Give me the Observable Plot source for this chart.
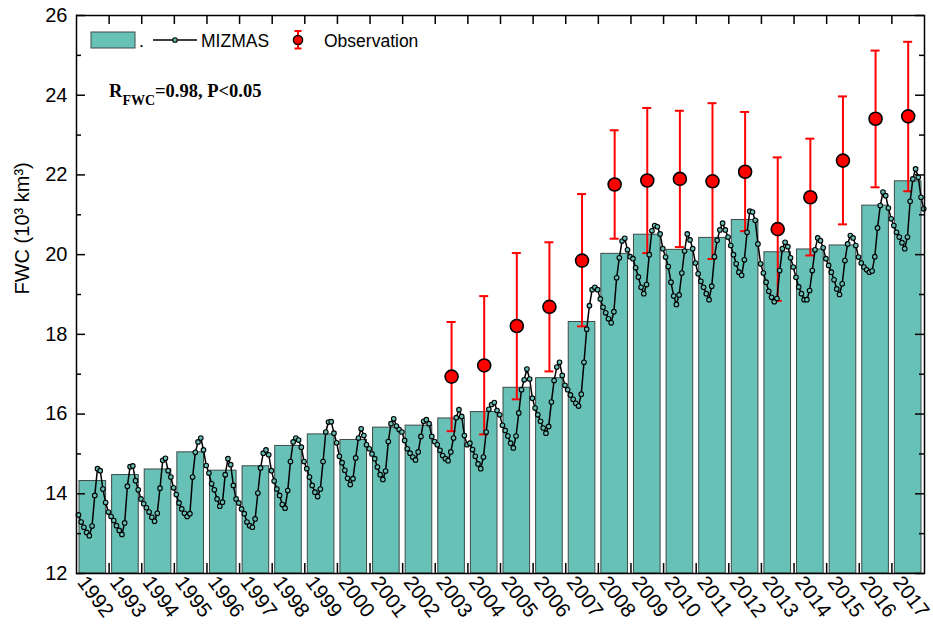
<!DOCTYPE html>
<html>
<head>
<meta charset="utf-8">
<script src="https://cdn.jsdelivr.net/npm/d3@7"></script>
<script src="https://cdn.jsdelivr.net/npm/@observablehq/plot@0.6"></script>
<style>
  body { margin: 0; background: #fff; }
  #chart { position: relative; width: 933px; height: 627px; }
</style>
</head>
<body>
<div id="chart"></div>
<script>
// Yearly model freshwater content (10^3 km^3), one bar per year
const years = d3.range(1992, 2018);
const annualFWC = [14.32, 14.47, 14.61, 15.04, 14.58, 14.69, 15.20, 15.49, 15.35, 15.66,
                   15.71, 15.89, 16.05, 16.66, 16.90, 18.31, 20.02, 20.50, 20.12, 20.42,
                   20.87, 20.06, 20.13, 20.23, 21.23, 21.84];

// MIZMAS monthly series, one row of 12 months per year
const monthlyFWC = [
  [13.47, 13.29, 13.16, 13.03, 12.95, 13.19, 13.96, 14.63, 14.58, 14.12, 13.78, 13.54], // 1992
  [13.43, 13.33, 13.20, 13.08, 12.98, 13.27, 14.19, 14.68, 14.70, 14.33, 14.10, 13.87], // 1993
  [13.75, 13.65, 13.54, 13.41, 13.31, 13.51, 14.14, 14.84, 14.89, 14.58, 14.42, 14.15], // 1994
  [13.98, 13.77, 13.62, 13.51, 13.43, 13.50, 14.42, 15.04, 15.30, 15.40, 15.10, 14.71], // 1995
  [14.52, 14.25, 14.10, 13.87, 13.69, 13.79, 14.48, 14.88, 14.73, 14.21, 13.87, 13.77], // 1996
  [13.62, 13.50, 13.29, 13.20, 13.16, 13.37, 14.02, 14.65, 15.02, 15.10, 14.98, 14.58], // 1997
  [14.32, 14.12, 13.96, 13.73, 13.64, 14.08, 14.81, 15.30, 15.40, 15.35, 15.17, 14.81], // 1998
  [14.63, 14.42, 14.21, 14.04, 13.93, 14.12, 14.81, 15.55, 15.80, 15.81, 15.52, 15.28], // 1999
  [14.94, 14.78, 14.59, 14.39, 14.23, 14.38, 14.90, 15.40, 15.63, 15.46, 15.23, 15.13], // 2000
  [15.00, 14.88, 14.67, 14.48, 14.36, 14.57, 15.31, 15.76, 15.88, 15.70, 15.61, 15.55], // 2001
  [15.34, 15.13, 15.02, 14.92, 14.85, 15.05, 15.44, 15.82, 15.86, 15.76, 15.44, 15.31], // 2002
  [15.23, 15.09, 14.96, 14.88, 14.83, 15.05, 15.40, 15.91, 16.11, 15.94, 15.46, 15.23], // 2003
  [15.27, 15.11, 14.94, 14.75, 14.63, 14.92, 15.55, 16.12, 16.24, 16.29, 16.09, 15.98], // 2004
  [15.72, 15.59, 15.45, 15.27, 15.15, 15.45, 16.03, 16.61, 16.86, 17.13, 16.88, 16.40], // 2005
  [16.15, 15.98, 15.82, 15.65, 15.52, 15.69, 16.30, 16.84, 17.18, 17.30, 16.97, 16.72], // 2006
  [16.61, 16.48, 16.37, 16.27, 16.20, 16.50, 17.30, 18.13, 18.72, 19.12, 19.18, 19.12], // 2007
  [18.89, 18.68, 18.54, 18.39, 18.29, 18.57, 19.42, 19.92, 20.34, 20.41, 20.12, 19.95], // 2008
  [19.90, 19.67, 19.44, 19.18, 19.02, 19.25, 20.00, 20.60, 20.73, 20.70, 20.52, 20.15], // 2009
  [19.94, 19.70, 19.31, 18.96, 18.75, 18.99, 19.54, 20.09, 20.52, 20.37, 20.15, 19.79], // 2010
  [19.52, 19.33, 19.18, 19.02, 18.87, 19.21, 19.95, 20.36, 20.62, 20.79, 20.62, 20.44], // 2011
  [20.23, 20.00, 19.77, 19.56, 19.48, 19.87, 20.56, 21.09, 21.07, 20.86, 20.27, 19.77], // 2012
  [19.54, 19.31, 19.08, 18.93, 18.82, 18.90, 19.60, 20.15, 20.31, 20.20, 19.92, 19.69], // 2013
  [19.43, 19.19, 19.02, 18.87, 18.87, 19.10, 19.60, 20.12, 20.42, 20.35, 20.17, 19.90], // 2014
  [19.73, 19.56, 19.37, 19.14, 19.00, 19.27, 19.85, 20.27, 20.48, 20.42, 20.23, 19.94], // 2015
  [19.79, 19.69, 19.62, 19.56, 19.59, 19.95, 20.67, 21.23, 21.57, 21.48, 21.17, 20.90], // 2016
  [20.73, 20.56, 20.44, 20.30, 20.15, 20.44, 21.34, 21.90, 22.15, 21.94, 21.44, 21.15]  // 2017
];

// Observed freshwater content with its uncertainty range
const obsYears = d3.range(2003, 2018);
const obsFWC  = [16.94, 17.22, 18.21, 18.69, 19.85, 21.76, 21.86, 21.90, 21.84, 22.08, 20.64, 21.44, 22.36, 23.41, 23.47];
const obsLow  = [15.57, 15.49, 16.37, 17.07, 18.20, 20.40, 20.04, 20.19, 19.89, 20.59, 18.84, 19.98, 20.76, 21.69, 21.59];
const obsHigh = [18.31, 18.96, 20.04, 20.31, 21.52, 23.12, 23.68, 23.61, 23.80, 23.58, 22.44, 22.91, 23.97, 25.12, 25.34];

const yMajor = [12, 14, 16, 18, 20, 22, 24, 26];
const yMinor = [13, 15, 17, 19, 21, 23, 25];

// Layout
const W = 933, H = 627;
const mL = 76, mR = 9, mT = 15, mB = 54;
const frameW = W - mL - mR, frameH = H - mT - mB;
const teal = "#68c1b7";
const red = "#ff0000";
const sans = "'Liberation Sans', Arial, sans-serif";

const barRows = years.map((year, i) => ({year, fwc: annualFWC[i]}));
const monthRows = years.flatMap((year, i) =>
  monthlyFWC[i].map((v, m) => ({t: year + (m + 0.72) / 12, fwc: v})));
const obsRows = obsYears.map((year, i) => ({year, fwc: obsFWC[i], lo: obsLow[i], hi: obsHigh[i]}));
const capHalf = 4.5 / (frameW / years.length);
const mid = d => d.year + 0.5;

const svg = Plot.plot({
  width: W, height: H,
  marginLeft: mL, marginRight: mR, marginTop: mT, marginBottom: mB,
  style: {fontFamily: sans, color: "#000", background: "#fff", overflow: "visible"},
  x: {domain: [1992, 2018], axis: null},
  y: {domain: [12, 26], axis: null},
  marks: [
    // annual bars
    Plot.rect(barRows, {x1: "year", x2: d => d.year + 1, y1: 12, y2: "fwc",
      insetLeft: 3, insetRight: 3, fill: teal, stroke: "#3f4a49", strokeWidth: 1}),
    // observation error bars
    Plot.ruleX(obsRows, {x: mid, y1: "lo", y2: "hi", stroke: red, strokeWidth: 2}),
    Plot.ruleY(obsRows, {y: "lo", x1: d => mid(d) - capHalf, x2: d => mid(d) + capHalf, stroke: red, strokeWidth: 2}),
    Plot.ruleY(obsRows, {y: "hi", x1: d => mid(d) - capHalf, x2: d => mid(d) + capHalf, stroke: red, strokeWidth: 2}),
    // MIZMAS monthly line
    Plot.line(monthRows, {x: "t", y: "fwc", stroke: "#000", strokeWidth: 1.5}),
    Plot.dot(monthRows, {x: "t", y: "fwc", r: 2.3, fill: teal, stroke: "#000", strokeWidth: 1.1}),
    // observations
    Plot.dot(obsRows, {x: mid, y: "fwc", r: 6.5, fill: red, stroke: "#000", strokeWidth: 1.6}),
    // frame and inward ticks
    Plot.frame({stroke: "#000", strokeWidth: 1.5}),
    Plot.tickY(yMajor, {y: d => d, insetRight: frameW - 9, stroke: "#000", strokeWidth: 1.5}),
    Plot.tickY(yMinor, {y: d => d, insetRight: frameW - 5, stroke: "#000", strokeWidth: 1.5}),
    Plot.tickY(yMajor, {y: d => d, insetLeft: frameW - 9, stroke: "#000", strokeWidth: 1.5}),
    Plot.tickY(yMinor, {y: d => d, insetLeft: frameW - 5, stroke: "#000", strokeWidth: 1.5}),
    Plot.tickX(years.slice(1), {x: d => d, insetBottom: frameH - 9, stroke: "#000", strokeWidth: 1.5}),
    Plot.tickX(years.slice(1), {x: d => d, insetTop: frameH - 10, stroke: "#000", strokeWidth: 1.5}),
    // tick labels
    Plot.axisY({ticks: yMajor, tickSize: 0, tickPadding: 9, fontSize: 20, label: null}),
    Plot.text(years, {x: d => d, text: d => String(d), frameAnchor: "bottom", dy: 9, rotate: 53,
      textAnchor: "start", fontSize: 20.5, fill: "#000"}),
    Plot.text(["FWC (10³ km³)"], {frameAnchor: "left", dx: -54, rotate: -90, fontSize: 20, fill: "#000"})
  ]
});

document.getElementById("chart").appendChild(svg);

// Legend inside the plot area
const g = d3.select(svg).append("g")
  .attr("font-family", sans).attr("font-size", 17.5).attr("text-anchor", "start");
g.append("rect").attr("x", 91).attr("y", 32).attr("width", 44).attr("height", 16)
  .attr("fill", teal).attr("stroke", "#3f4a49").attr("stroke-width", 1);
g.append("text").attr("x", 139).attr("y", 46.5).text(".");
g.append("line").attr("x1", 153).attr("x2", 197).attr("y1", 40).attr("y2", 40)
  .attr("stroke", "#000").attr("stroke-width", 1.5);
g.append("circle").attr("cx", 175).attr("cy", 40).attr("r", 2.3)
  .attr("fill", teal).attr("stroke", "#000").attr("stroke-width", 1.1);
g.append("text").attr("x", 201).attr("y", 46.5).text("MIZMAS");
g.append("line").attr("x1", 298).attr("x2", 298).attr("y1", 31).attr("y2", 48.5)
  .attr("stroke", red).attr("stroke-width", 2);
g.append("line").attr("x1", 294.5).attr("x2", 301.5).attr("y1", 31).attr("y2", 31)
  .attr("stroke", red).attr("stroke-width", 2);
g.append("line").attr("x1", 294.5).attr("x2", 301.5).attr("y1", 48.5).attr("y2", 48.5)
  .attr("stroke", red).attr("stroke-width", 2);
g.append("circle").attr("cx", 298).attr("cy", 40).attr("r", 4.6)
  .attr("fill", red).attr("stroke", "#000").attr("stroke-width", 1.5);
g.append("text").attr("x", 324).attr("y", 46.5).text("Observation");

// Correlation annotation
const ann = d3.select(svg).append("text")
  .attr("x", 109).attr("y", 97).attr("text-anchor", "start")
  .attr("font-family", "'Liberation Serif', 'Times New Roman', serif")
  .attr("font-weight", "bold").attr("font-size", 18.5).attr("fill", "#000");
ann.append("tspan").text("R");
ann.append("tspan").attr("dy", 8).attr("font-size", 14).text("FWC");
ann.append("tspan").attr("dy", -8).text("=0.98, P<0.05");
</script>
</body>
</html>
